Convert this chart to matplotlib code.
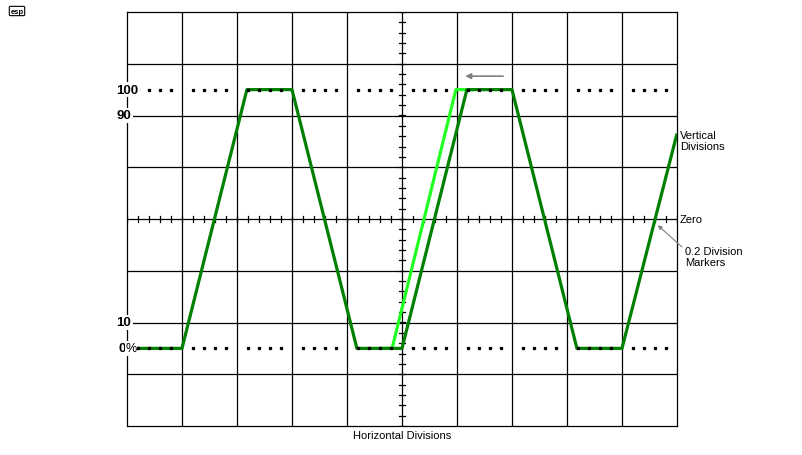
import numpy as np
import matplotlib.pyplot as plt

plt.rcParams['font.family'] = ['Liberation Sans', 'DejaVu Sans']

# trace: x in divisions, y in percent
trace_x = [0.0, 1.0, 2.18, 3.0, 4.18, 5.0, 6.18, 7.0, 8.18, 9.0, 10.0]
trace_y = [0, 0, 100, 100, 0, 0, 100, 100, 0, 0, 83]
# shifted (earlier) trace, only the part that is not hidden
shifted_x = [4.6, 4.82, 5.98, 6.3]
shifted_y = [0, 0, 100, 100]

level_vals = [100, 90, 10]
level_labels = ['100', '90', '10']


def pct(v):
    # 0..100 % spans 5 vertical divisions, centred on zero
    return (np.asarray(v, dtype=float) - 50) / 20


fig = plt.figure(figsize=(8.02, 4.56), dpi=100)
ax = fig.add_axes([127 / 802, 29 / 456, 550 / 802, 414 / 456])
ax.set_xlim(0, 10)
ax.set_ylim(-4, 4)
ax.set_xticks([])
ax.set_yticks([])
for s in ax.spines.values():
    s.set_linewidth(0.9)
    s.set_zorder(1)

lw = 0.9
for x in range(1, 10):
    ax.axvline(x, color='black', lw=lw, zorder=1)
for y in range(-3, 4):
    ax.axhline(y, color='black', lw=lw, zorder=1)

# 0.2 division markers on the centre lines
for y in np.arange(-4, 4.001, 0.2):
    ax.plot([5 - 0.055, 5 + 0.055], [y, y], color='black', lw=lw, zorder=1)
for x in np.arange(0, 10.001, 0.2):
    ax.plot([x, x], [-0.058, 0.058], color='black', lw=lw, zorder=1)

# traces
ax.plot(shifted_x, pct(shifted_y), color='#22ff22', lw=2.3, zorder=2,
        solid_joinstyle='round', solid_capstyle='butt')
ax.plot(trace_x, pct(trace_y), color='#008000', lw=2.3, zorder=3,
        solid_joinstyle='round', solid_capstyle='butt')

# dotted 0 % and 100 % levels
dots = [x for x in np.arange(0.2, 10, 0.2) if abs(x - round(x)) > 1e-6]
for lv in (0, 100):
    ax.plot(dots, pct([lv] * len(dots)), ls='none', marker='s', ms=1.4,
            color='black', zorder=4)

# level labels on the left
box = dict(facecolor='white', edgecolor='none', pad=1.0)
for v, t in zip(level_vals, level_labels):
    ax.text(-0.19, pct(v), t, ha='left', va='center', fontsize=9.5,
            fontweight='bold', bbox=box, zorder=6, clip_on=False)
ax.text(-0.15, pct(0), '0', ha='left', va='center', fontsize=9.5,
        fontweight='bold', bbox=box, zorder=6, clip_on=False)
ax.text(0.17, pct(0), '%', ha='right', va='center', fontsize=9,
        bbox=dict(facecolor='white', edgecolor='none', pad=0.3),
        zorder=6, clip_on=False)

# right side notes
ax.text(10.05, 1.52, 'Vertical\nDivisions', ha='left', va='center',
        fontsize=8, linespacing=1.1, clip_on=False)
ax.text(10.05, 0.0, 'Zero', ha='left', va='center', fontsize=8,
        clip_on=False)
ax.text(10.14, -0.72, '0.2 Division\nMarkers', ha='left', va='center',
        fontsize=8, linespacing=1.1, clip_on=False)
ax.annotate('', xy=(9.65, -0.12), xytext=(10.09, -0.54),
            arrowprops=dict(arrowstyle='-|>', color='#808080', lw=0.8,
                            mutation_scale=6, shrinkA=0, shrinkB=0),
            annotation_clip=False)

# shift arrow
ax.annotate('', xy=(6.15, 2.76), xytext=(6.84, 2.76),
            arrowprops=dict(arrowstyle='-|>', color='#808080', lw=1.2,
                            mutation_scale=8, shrinkA=0, shrinkB=0))

ax.text(5, -4.17, 'Horizontal Divisions', ha='center', va='center',
        fontsize=8, clip_on=False)

# little logo
fig.text(17 / 802, 1 - 12 / 456, 'esp', ha='center', va='center',
         fontsize=5.5, fontweight='bold',
         bbox=dict(boxstyle='round,pad=0.15', facecolor='white',
                   edgecolor='black', lw=0.8))

fig.savefig('out.png', dpi=100)
